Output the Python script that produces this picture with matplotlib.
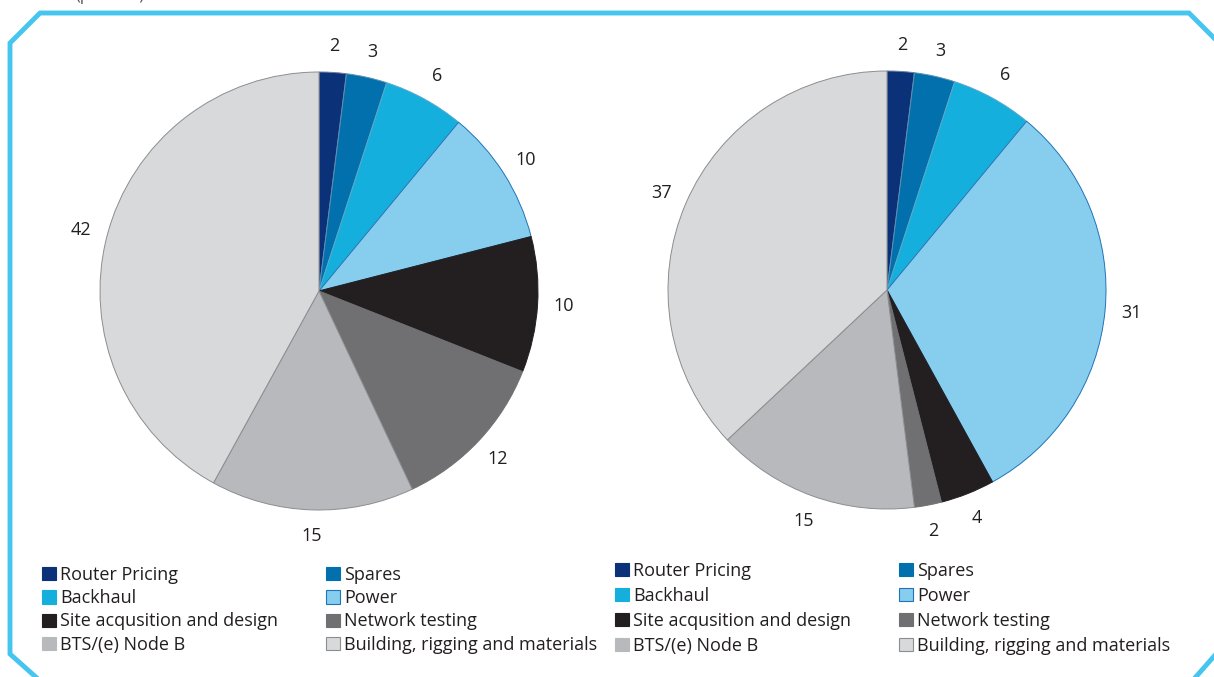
import matplotlib.pyplot as plt
from matplotlib.lines import Line2D
from matplotlib.patches import Patch

W, H = 1214, 677

categories = ['Router Pricing', 'Spares', 'Backhaul', 'Power',
              'Site acqusition and design', 'Network testing',
              'BTS/(e) Node B', 'Building, rigging and materials']
left_values = [2, 3, 6, 10, 10, 12, 15, 42]
right_values = [2, 3, 6, 31, 4, 2, 15, 37]

colors = ['#0b3179', '#0170ad', '#15afdd', '#87cdee',
          '#231f20', '#707073', '#b8b9bc', '#d8d9db']
edges = ['#6d7e9e', '#5d8fb2', '#5aa9c9', '#1f74b8',
         '#231f20', '#707073', '#8c8d90', '#8c8d90']

plt.rcParams['font.family'] = ['Open Sans', 'DejaVu Sans']

fig = plt.figure(figsize=(W / 100, H / 100), dpi=100)


def pie_axes(cx, cy, r):
    ax = fig.add_axes([(cx - 1.3 * r) / W, (H - cy - 1.3 * r) / H,
                       2.6 * r / W, 2.6 * r / H])
    return ax


def draw_pie(ax, values):
    wedges, texts = ax.pie(values, colors=colors, startangle=90, counterclock=False,
                           labels=[str(v) for v in values], labeldistance=1.12,
                           wedgeprops=dict(linewidth=0.7),
                           textprops=dict(fontsize=13, color='#231f20'))
    for w, e in zip(wedges, edges):
        w.set_edgecolor(e)
    for t in texts:
        t.set_ha('center')
        t.set_va('center')
    ax.set_xlim(-1.3, 1.3)
    ax.set_ylim(-1.3, 1.3)
    ax.set_aspect('equal')
    ax.axis('off')


draw_pie(pie_axes(319, 291, 219), left_values)
draw_pie(pie_axes(887, 290, 219), right_values)


def legend_col(items, x, y, spacing):
    handles = [Patch(facecolor=colors[i], edgecolor=edges[i] if i in (3, 7) else colors[i],
                     linewidth=0.8) for i in items]
    fig.legend(handles, [categories[i] for i in items], loc='upper left',
               bbox_to_anchor=(x / W, 1 - y / H), frameon=False, fontsize=13,
               handlelength=0.75, handleheight=0.75, handletextpad=0.25,
               labelspacing=spacing, borderpad=0, borderaxespad=0,
               labelcolor='#231f20')


legend_col([0, 2, 4, 6], 42, 566, 0.29)
legend_col([1, 3, 5, 7], 326, 566, 0.29)
legend_col([0, 2, 4, 6], 615, 562, 0.39)
legend_col([1, 3, 5, 7], 899, 562, 0.39)

# cyan frame with cut corners
frame = '#45c5ef'
fx = [38, 10, 10, 40, 1189, 1216]
fy = [679, 654, 43, 13, 13, 40]
fig.add_artist(Line2D([x / W for x in fx], [1 - y / H for y in fy],
                      transform=fig.transFigure, color=frame, linewidth=3.5,
                      solid_joinstyle='miter'))
fig.add_artist(Line2D([1216 / W, 1194 / W], [1 - 654 / H, 1 - 679 / H],
                      transform=fig.transFigure, color=frame, linewidth=3.5))
fig.text(75 / W, 1 + 4 / H, '(percent)', fontsize=12, color='#555555',
         va='center', ha='left')

fig.savefig('out.png', dpi=100)
